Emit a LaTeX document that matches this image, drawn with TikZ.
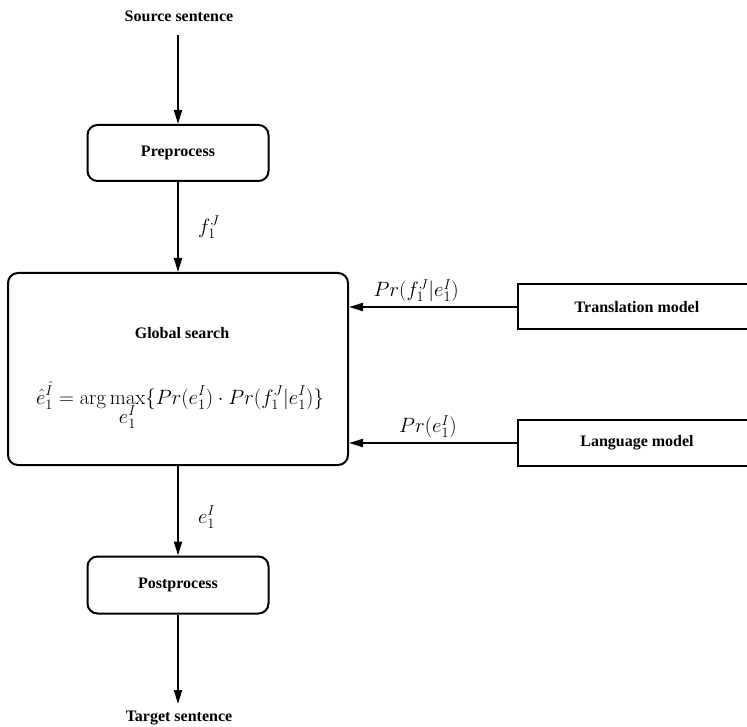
\documentclass[tikz,border=0pt]{standalone}
\usepackage[no-math]{fontspec}
\setmainfont{Liberation Serif}
\usetikzlibrary{arrows.meta}
\begin{document}
\begin{tikzpicture}[x=1pt,y=-1pt,
  line width=2pt,
  lbl/.style={font=\fontsize{16}{19}\selectfont\bfseries, inner sep=0pt},
  mth/.style={font=\fontsize{20}{24}\selectfont, inner sep=0pt},
  flow/.style={-{Triangle[length=14pt,width=8pt]}},
  rbox/.style={draw, rounded corners=10pt, inner sep=0pt, font=\fontsize{16}{19}\selectfont\bfseries},
  sbox/.style={draw, inner sep=0pt, font=\fontsize{16}{19}\selectfont\bfseries}]
\useasboundingbox (0,0) rectangle (747,727);

% processing stages
\node[rbox, minimum width=181pt, minimum height=56pt] (pre) at (178,153) {Preprocess};
\node[rbox, minimum width=340pt, minimum height=192pt] (gs) at (178,369) {};
\node[lbl] (gstitle) at (182,333) {Global search};
\node[mth, anchor=base west] (gsrule) at (35,404) {$\displaystyle\hat{e}_1^{\hat{I}} = \arg\max_{\textstyle e_1^I}\{Pr(e_1^I)\cdot Pr(f_1^J|e_1^I)\}$};
\node[rbox, minimum width=181pt, minimum height=57pt] (post) at (178,585) {Postprocess};

% knowledge sources
\node[sbox, minimum width=238pt, minimum height=45pt] (tm) at (637,307) {Translation model};
\node[sbox, minimum width=238pt, minimum height=46pt] (lm) at (637,443) {Language model};

% input and output
\node[lbl] (src) at (179,16) {Source sentence};
\node[lbl] (tgt) at (179,718) {Target sentence};
\coordinate (srcend) at (178,35);
\coordinate (tgtend) at (178,704);

% connectors
\draw[flow] (srcend) -- (pre.north -| srcend);
\draw[flow] (pre.south -| srcend) -- (gs.north -| srcend) node[mth, pos=0.5, right=19pt] {$f_1^J$};
\draw[flow] (gs.south -| srcend) -- (post.north -| srcend) node[mth, pos=0.57, right=19pt] {$e_1^I$};
\draw[flow] (post.south -| srcend) -- (tgtend);
\draw[flow] (tm.west) -- (tm.west -| gs.east) node[mth, pos=0.6, above=4pt] {$Pr(f_1^J|e_1^I)$};
\draw[flow] (lm.west) -- (lm.west -| gs.east) node[mth, pos=0.53, above=4pt] {$Pr(e_1^I)$};
\end{tikzpicture}
\end{document}
